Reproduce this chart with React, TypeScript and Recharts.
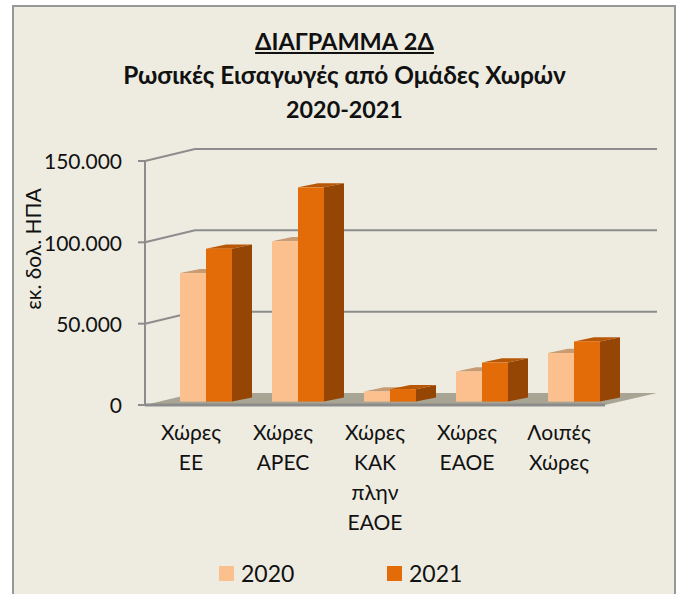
import React from "react";
import { ComposedChart, Bar, XAxis, YAxis, CartesianGrid, Legend } from "recharts";

const categories = ["Χώρες\nΕΕ", "Χώρες\nAPEC", "Χώρες\nΚΑΚ\nπλην\nΕΑΟΕ", "Χώρες\nΕΑΟΕ", "Λοιπές\nΧώρες"];
const values2020 = [79000, 98600, 6200, 18500, 29900];
const values2021 = [94000, 131700, 7650, 24000, 37000];
const yTicks = [0, 50000, 100000, 150000];
const titleLines = ["ΔΙΑΓΡΑΜΜΑ 2Δ", "Ρωσικές Εισαγωγές από Ομάδες Χωρών", "2020-2021"];
const titleSizes = [23.5, 24.4, 23.3];
const axisTitle = "εκ. δολ. ΗΠΑ";

const table = categories.map((name, i) => ({ name, y2020: values2020[i], y2021: values2021[i] }));

const FONT = "Lato, 'Open Sans', sans-serif";
const GRAY = "#8c8c8c";
const BACK_DX = 51;
const BACK_DY = 12;

function gridLine(props: any) {
  const { x1, x2, y1, index } = props;
  const isFloor = Math.abs(y1 - props.y - props.height) < 0.5;
  const line = `M${x1},${y1} L${x1 + BACK_DX - 1},${y1 - BACK_DY} L${x2 + BACK_DX + 1},${y1 - BACK_DY}`;
  if (isFloor) {
    return (
      <polygon
        key={index}
        points={`${x1},${y1} ${x1 + BACK_DX - 1},${y1 - BACK_DY} ${x2 + BACK_DX + 1},${y1 - BACK_DY} ${x2},${y1}`}
        fill="#a8a595"
      />
    );
  }
  return <path key={index} d={line} fill="none" stroke={GRAY} strokeWidth={2} />;
}

const bar3d = (front: string, top: string, side: string) => (props: any) => {
  const { x, y, width, height } = props;
  const sx = x + 15;
  const sy = y - 3.4;
  const dx = 20;
  const dy = 4.2;
  return (
    <g>
      <polygon points={`${sx},${sy} ${sx + dx},${sy - dy} ${sx + width + dx},${sy - dy} ${sx + width},${sy}`} fill={top} />
      <polygon points={`${sx + width},${sy} ${sx + width + dx},${sy - dy} ${sx + width + dx},${sy + height - dy} ${sx + width},${sy + height}`} fill={side} />
      <rect x={sx} y={sy} width={width} height={height} fill={front} />
    </g>
  );
};

function CategoryTick(props: any) {
  const { x, y, payload } = props;
  const parts = String(payload.value).split("\n");
  return (
    <text x={x} y={y} textAnchor="middle" fontFamily={FONT} fontSize={21} fill="#111">
      {parts.map((p, i) => (
        <tspan key={i} x={x} dy={i === 0 ? 27 : 30}>{p}</tspan>
      ))}
    </text>
  );
}

function LegendContent(props: any) {
  return (
    <div style={{ display: "flex", fontFamily: FONT, fontSize: 23, color: "#111", lineHeight: "30px" }}>
      {props.payload.map((p: any, i: number) => (
        <div key={i} style={{ display: "flex", alignItems: "center", width: 168 }}>
          <span style={{ display: "inline-block", width: 15, height: 15, background: p.color, marginRight: 7 }} />
          {p.value}
        </div>
      ))}
    </div>
  );
}

export default function App() {
  return (
    <div style={{ position: "absolute", left: 0, top: 0, width: 679, height: 594, overflow: "hidden", background: "#fff" }}>
      <div style={{ position: "absolute", left: 12, top: 5, width: 660, height: 600, background: "#eeece1", border: "2px solid #979797" }} />
      <div style={{ position: "absolute", left: 0, top: 24, width: 689, textAlign: "center", fontFamily: FONT, fontWeight: 700, lineHeight: "34px", color: "#111" }}>
        {titleLines.map((t, i) => (
          <div key={i} style={{ fontSize: titleSizes[i], textDecoration: i === 0 ? "underline" : "none" }}>{t}</div>
        ))}
      </div>
      <div style={{ position: "absolute", left: 0, top: 0 }}>
        <ComposedChart
          width={679}
          height={594}
          data={table}
          barSize={26}
          barGap={0}
          margin={{ top: 161, right: 74, bottom: 0, left: 0 }}
        >
          <CartesianGrid vertical={false} horizontal={gridLine} stroke={GRAY} />
          <XAxis
            dataKey="name"
            height={159}
            interval={0}
            tickLine={false}
            axisLine={{ stroke: GRAY, strokeWidth: 3 }}
            tick={<CategoryTick />}
          />
          <YAxis
            width={145}
            domain={[0, 150000]}
            ticks={yTicks}
            interval={0}
            axisLine={{ stroke: GRAY, strokeWidth: 2 }}
            tickLine={{ stroke: GRAY, strokeWidth: 2 }}
            tickSize={7}
            tickMargin={16}
            tick={{ fontFamily: FONT, fontSize: 21, fill: "#111", dy: 1 }}
            tickFormatter={(v: number) => v.toLocaleString("de-DE")}
            label={{ value: axisTitle, angle: -90, position: "insideLeft", offset: 34, dy: -34, textAnchor: "middle", fontFamily: FONT, fontSize: 21, fill: "#111" }}
          />
          <Legend
            content={<LegendContent />}
            wrapperStyle={{ position: "absolute", left: 219, top: 558, width: 360, bottom: "auto", right: "auto" }}
          />
          <Bar dataKey="y2020" name="2020" fill="#fbc08e" isAnimationActive={false} shape={bar3d("#fbc08e", "#c89b73", "#c08a5c")} />
          <Bar dataKey="y2021" name="2021" fill="#e36c09" isAnimationActive={false} shape={bar3d("#e36c09", "#b85706", "#954504")} />
        </ComposedChart>
      </div>
    </div>
  );
}
